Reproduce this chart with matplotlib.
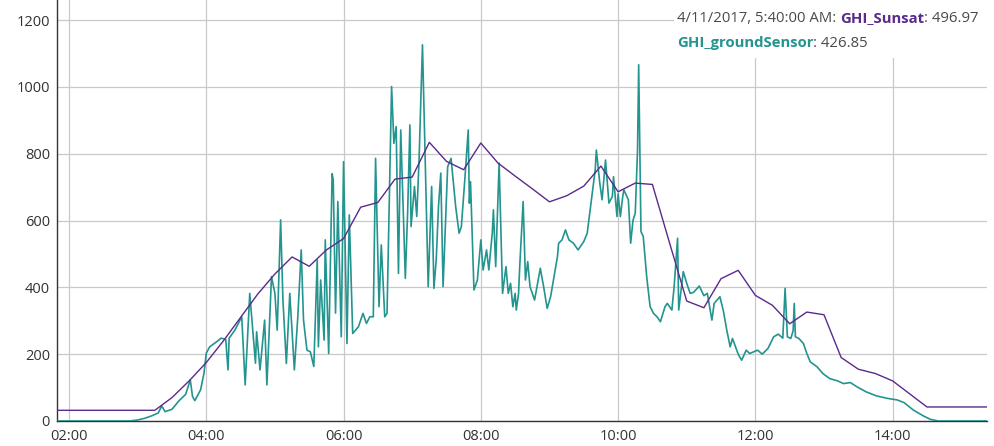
import matplotlib
matplotlib.use("Agg")
import matplotlib.pyplot as plt
import matplotlib.dates as mdates
from matplotlib.patches import Rectangle
import pandas as pd

DAY = "2017-04-11"

sunsat_times = ["01:45", "02:00", "02:15", "02:30", "02:45", "03:00", "03:15", "03:30", "03:45",
                "04:00", "04:15", "04:30", "04:45", "05:00", "05:15", "05:30", "05:45", "06:00",
                "06:15", "06:30", "06:45", "07:00", "07:15", "07:30", "07:45", "08:00", "08:15",
                "08:30", "08:45", "09:00", "09:15", "09:30", "09:45", "10:00", "10:15", "10:30",
                "10:45", "11:00", "11:15", "11:30", "11:45", "12:00", "12:15", "12:30", "12:45",
                "13:00", "13:15", "13:30", "13:45", "14:00", "14:15", "14:30", "14:45", "15:00",
                "15:15", "15:30"]
sunsat_values = [32, 32, 32, 32, 32, 32, 32, 70, 120,
                 175, 240, 310, 380, 440, 491, 463, 512, 546,
                 640, 654, 724, 730, 834, 777, 752, 832, 772,
                 733, 695, 656, 674, 703, 763, 686, 712, 708,
                 533, 359, 339, 426, 451, 376, 346, 291, 326,
                 318, 190, 155, 142, 120, 81, 42, 42, 42,
                 42, 42]

ground_times = ["01:45", "02:53", "03:00", "03:06", "03:12", "03:18", "03:21", "03:24", "03:30", "03:36",
                "03:42", "03:46", "03:48", "03:50", "03:55", "03:58", "04:00", "04:03", "04:09", "04:13",
                "04:17", "04:19", "04:20", "04:25", "04:31", "04:34", "04:38", "04:43", "04:44", "04:47",
                "04:51", "04:53", "04:57", "05:00", "05:02", "05:05", "05:07", "05:10", "05:13", "05:17",
                "05:20", "05:23", "05:25", "05:28", "05:31", "05:34", "05:37", "05:38", "05:40", "05:43",
                "05:44", "05:47", "05:50", "05:51", "05:53", "05:55", "05:58", "06:00", "06:03", "06:05",
                "06:08", "06:13", "06:17", "06:20", "06:23", "06:26", "06:28", "06:31", "06:33", "06:36",
                "06:38", "06:42", "06:44", "06:46", "06:48", "06:50", "06:52", "06:54", "06:56", "06:58",
                "06:59", "07:02", "07:04", "07:06", "07:09", "07:11", "07:14", "07:17", "07:19", "07:21",
                "07:23", "07:25", "07:27", "07:31", "07:34", "07:38", "07:41", "07:43", "07:46", "07:49",
                "07:50", "07:51", "07:54", "07:57", "08:00", "08:02", "08:05", "08:07", "08:10", "08:11",
                "08:13", "08:16", "08:19", "08:22", "08:24", "08:26", "08:28", "08:30", "08:31", "08:33",
                "08:34", "08:37", "08:39", "08:41", "08:43", "08:47", "08:52", "08:55", "08:58", "09:01",
                "09:04", "09:07", "09:08", "09:11", "09:14", "09:17", "09:21", "09:25", "09:30", "09:33",
                "09:37", "09:40", "09:41", "09:44", "09:46", "09:49", "09:52", "09:55", "09:56", "09:59",
                "10:00", "10:02", "10:04", "10:05", "10:09", "10:11", "10:13", "10:15", "10:17", "10:18",
                "10:19", "10:20", "10:22", "10:25", "10:28", "10:31", "10:34", "10:37", "10:41", "10:43",
                "10:47", "10:49", "10:52", "10:53", "10:57", "11:00", "11:03", "11:06", "11:11", "11:15",
                "11:18", "11:22", "11:24", "11:29", "11:32", "11:35", "11:38", "11:40", "11:45", "11:48",
                "11:52", "11:55", "12:02", "12:06", "12:11", "12:16", "12:20", "12:24", "12:26", "12:28",
                "12:31", "12:33", "12:34", "12:35", "12:38", "12:42", "12:45", "12:48", "12:54", "12:59",
                "13:05", "13:12", "13:17", "13:23", "13:29", "13:37", "13:46", "13:55", "14:04", "14:10",
                "14:18", "14:27", "14:33", "14:40", "15:30"]
ground_values = [0, 0, 3, 8, 15, 24, 45, 28, 35, 60,
                 80, 123, 73, 61, 93, 143, 203, 222, 237, 248,
                 244, 153, 248, 272, 312, 108, 382, 173, 267, 153,
                 302, 108, 432, 382, 272, 602, 362, 172, 382, 153,
                 312, 512, 302, 212, 207, 163, 482, 222, 422, 242,
                 542, 202, 740, 722, 323, 657, 252, 776, 232, 617,
                 262, 282, 322, 292, 312, 312, 786, 342, 527, 312,
                 322, 1001, 831, 881, 442, 871, 652, 427, 622, 886,
                 582, 702, 612, 781, 1126, 841, 402, 702, 397, 482,
                 642, 742, 402, 761, 786, 642, 562, 582, 722, 871,
                 652, 716, 392, 422, 542, 452, 512, 452, 562, 632,
                 462, 772, 382, 462, 382, 412, 342, 382, 332, 382,
                 462, 657, 422, 477, 402, 362, 457, 400, 337, 372,
                 432, 492, 532, 542, 572, 542, 532, 512, 537, 562,
                 672, 752, 811, 712, 662, 781, 652, 672, 731, 612,
                 680, 612, 670, 692, 662, 532, 600, 622, 811, 1066,
                 811, 567, 552, 432, 342, 322, 312, 297, 342, 352,
                 332, 402, 547, 332, 447, 412, 382, 385, 404, 375,
                 382, 302, 352, 372, 330, 272, 222, 247, 200, 182,
                 212, 202, 212, 200, 217, 252, 260, 248, 397, 252,
                 247, 270, 352, 252, 247, 232, 202, 177, 162, 142,
                 127, 120, 112, 115, 102, 87, 75, 68, 63, 55,
                 33, 15, 5, 0, 0]

y_ticks = [0, 200, 400, 600, 800, 1000, 1200]
x_tick_labels = ["02:00", "04:00", "06:00", "08:00", "10:00", "12:00", "14:00"]

hover_time = "4/11/2017, 5:40:00 AM"
hover_sunsat = "496.97"
hover_ground = "426.85"

PURPLE = "#5a2a8c"
TEAL = "#23948e"
GRAY_TXT = "#4a4a4a"

def to_dt(times):
    return pd.to_datetime([f"{DAY} {t}" for t in times])

plt.rcParams["font.family"] = ["Open Sans", "DejaVu Sans"]

fig = plt.figure(figsize=(9.95, 4.46), dpi=100)
ax = fig.add_axes([57 / 995, 25 / 446, (987 - 57) / 995, (446 - 25) / 446])

ax.plot(to_dt(ground_times), ground_values, color=TEAL, lw=1.2, zorder=3)
ax.plot(to_dt(sunsat_times), sunsat_values, color=PURPLE, lw=1.0, zorder=4)

ax.set_xlim(pd.Timestamp(f"{DAY} 01:49:30"), pd.Timestamp(f"{DAY} 15:22:30"))
ax.set_ylim(0, 1260)
ax.set_yticks(y_ticks)
ax.set_yticklabels([str(v) for v in y_ticks])
ax.set_xticks(to_dt(x_tick_labels))
ax.set_xticklabels(x_tick_labels)

ax.grid(True, color="#c9c9c9", lw=0.9)
ax.set_axisbelow(True)
for s in ["top", "right"]:
    ax.spines[s].set_visible(False)
for s in ["left", "bottom"]:
    ax.spines[s].set_color("#333333")
    ax.spines[s].set_linewidth(1.0)
ax.tick_params(axis="both", length=0, labelsize=10.5, labelcolor="#333333")
ax.tick_params(axis="y", pad=5)
ax.tick_params(axis="x", pad=6)

# hover readout box
fig.add_artist(Rectangle((674 / 995, 1 - 58 / 446), (990 - 674) / 995, 58 / 446,
                         transform=fig.transFigure, facecolor="white", edgecolor="none", zorder=5))

fs = 10.7
x0 = 677 / 995
y1 = 1 - 22 / 446
y2 = 1 - 47 / 446
fig.canvas.draw()
r = fig.canvas.get_renderer()

def put(x, y, s, **kw):
    t = fig.text(x, y, s, fontsize=fs, va="baseline", ha="left", zorder=6, **kw)
    bb = t.get_window_extent(r)
    return bb.x1 / 995

x = put(x0, y1, hover_time + ":", color=GRAY_TXT)
x = put(x + 4 / 995, y1, "GHI_Sunsat", color=PURPLE, fontweight="bold")
x = put(x, y1, ": " + hover_sunsat, color=GRAY_TXT)
x = put(x0, y2, "GHI_groundSensor", color=TEAL, fontweight="bold")
x = put(x, y2, ": " + hover_ground, color=GRAY_TXT)

fig.savefig("out.png", dpi=100)
